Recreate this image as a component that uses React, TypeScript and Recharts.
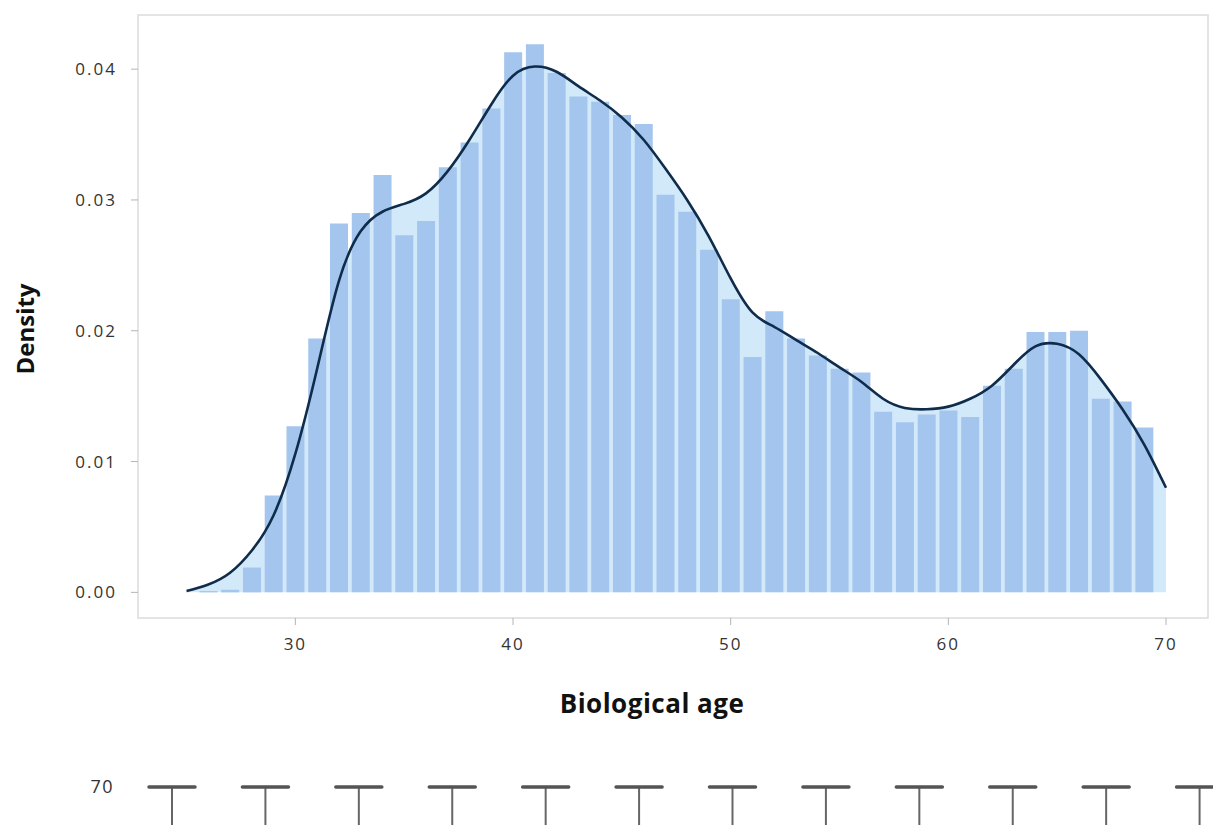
import { Area, Bar, ComposedChart, Label, Line, ReferenceArea, XAxis, YAxis } from 'recharts';

// histogram + kde
const AGES = [25, 26, 27, 28, 29, 30, 31, 32, 33, 34, 35, 36, 37, 38, 39, 40, 41, 42, 43, 44, 45, 46, 47, 48, 49, 50, 51, 52, 53, 54, 55, 56, 57, 58, 59, 60, 61, 62, 63, 64, 65, 66, 67, 68, 69, 70];
const HIST_DENSITY = [
  null, 0.0001, 0.0002, 0.0019, 0.0074, 0.0127, 0.0194, 0.0282, 0.029, 0.0319,
  0.0273, 0.0284, 0.0325, 0.0344, 0.037, 0.0413, 0.0419, 0.0397, 0.0379, 0.0375,
  0.0365, 0.0358, 0.0304, 0.0291, 0.0262, 0.0224, 0.018, 0.0215, 0.0194, 0.0181,
  0.0171, 0.0168, 0.0138, 0.013, 0.0136, 0.0139, 0.0134, 0.0158, 0.0171, 0.0199,
  0.0199, 0.02, 0.0148, 0.0146, 0.0126, null,
];
const KDE_DENSITY = [
  0.0001, 0.0006, 0.0015, 0.0032, 0.0059, 0.0106, 0.0171, 0.0238, 0.0276, 0.0291,
  0.0297, 0.0305, 0.0322, 0.0346, 0.0373, 0.0395, 0.0402, 0.0398, 0.0387, 0.0376,
  0.0363, 0.0346, 0.0324, 0.03, 0.0272, 0.024, 0.0214, 0.0203, 0.0193, 0.0183,
  0.0172, 0.0161, 0.0148, 0.0141, 0.014, 0.0142, 0.0148, 0.0158, 0.0174, 0.0188,
  0.019, 0.0182, 0.0163, 0.014, 0.0113, 0.008,
];
const X_TICKS = [30, 40, 50, 60, 70];
const Y_TICKS = [0, 0.01, 0.02, 0.03, 0.04];
const X_DOMAIN = [22.77, 71.93];
const Y_DOMAIN = [-0.00196, 0.04414];

// second panel, only its top whisker caps are in view
const GROUPS = ['1', '2', '3', '4', '5', '6', '7', '8', '9', '10', '11', '12'];
const WHISKER_LOW = [48, 47, 49, 46, 48, 47, 49, 48, 46, 47, 48, 49];
const WHISKER_HIGH = [70, 70, 70, 70, 70, 70, 70, 70, 70, 70, 70, 70];

const histData = AGES.map((age, i) => ({
  age,
  hist: HIST_DENSITY[i],
  kde: KDE_DENSITY[i],
}));

const whiskerData = GROUPS.map((group, i) => ({
  group,
  range: [WHISKER_LOW[i], WHISKER_HIGH[i]],
}));

const tickStyle = { fill: '#333', fontSize: 17, fontFamily: 'Open Sans', letterSpacing: 2 };

function WhiskerShape(props: any) {
  const { x, y, width, height } = props;
  const top = Math.min(y, y + height);
  const bottom = Math.max(y, y + height);
  const cx = x + width / 2;
  return (
    <g>
      <line x1={cx} x2={cx} y1={top} y2={bottom} stroke="#666" strokeWidth={2} />
      <line x1={x} x2={x + width} y1={top} y2={top} stroke="#545454" strokeWidth={3.5} strokeLinecap="round" />
    </g>
  );
}

export default function App() {
  return (
    <div
      style={{
        position: 'fixed',
        left: 0,
        top: 0,
        width: 1213,
        height: 825,
        overflow: 'hidden',
        background: '#fff',
      }}
    >
      <div style={{ position: 'absolute', left: 0, top: 0 }}>
        <ComposedChart width={1213} height={740} data={histData} margin={{ top: 15, right: 5, bottom: 0, left: 0 }}>
          <ReferenceArea
            x1={X_DOMAIN[0]}
            x2={X_DOMAIN[1]}
            y1={Y_DOMAIN[0]}
            y2={Y_DOMAIN[1]}
            fill="none"
            stroke="#dcdcdc"
            strokeWidth={1.5}
            ifOverflow="visible"
          />
          <XAxis
            dataKey="age"
            type="number"
            domain={X_DOMAIN}
            ticks={X_TICKS}
            allowDataOverflow
            height={122}
            axisLine={false}
            tickLine={{ stroke: '#b5b5b5' }}
            tickSize={7}
            tickMargin={13}
            tick={tickStyle}
          >
            <Label
              content={() => (
                <text
                  x={652}
                  y={713}
                  textAnchor="middle"
                  fill="#111"
                  fontSize={26}
                  fontWeight={700}
                  letterSpacing={0.5}
                  fontFamily="Open Sans"
                >
                  Biological age
                </text>
              )}
            />
          </XAxis>
          <YAxis
            type="number"
            domain={Y_DOMAIN}
            ticks={Y_TICKS}
            allowDataOverflow
            width={138}
            axisLine={false}
            tickLine={{ stroke: '#b5b5b5' }}
            tickSize={7}
            tickMargin={14}
            tick={tickStyle}
            tickFormatter={(v: number) => v.toFixed(2)}
          >
            <Label
              content={() => (
                <text
                  x={24}
                  y={329}
                  transform="rotate(-90 24 329)"
                  textAnchor="middle"
                  dominantBaseline="central"
                  fill="#111"
                  fontSize={24}
                  fontWeight={700}
                  fontFamily="Open Sans"
                >
                  Density
                </text>
              )}
            />
          </YAxis>
          <Area
            type="natural"
            dataKey="kde"
            baseValue={0}
            fill="#d2e9fa"
            fillOpacity={1}
            stroke="none"
            isAnimationActive={false}
          />
          <Bar dataKey="hist" barSize={18} fill="#a4c5ee" isAnimationActive={false} />
          <Line
            type="natural"
            dataKey="kde"
            stroke="#0f2c4b"
            strokeWidth={2.6}
            dot={false}
            isAnimationActive={false}
          />
        </ComposedChart>
      </div>
      <div style={{ position: 'absolute', left: 0, top: 737 }}>
        <ComposedChart width={1260} height={500} data={whiskerData} margin={{ top: 0, right: 14, bottom: 0, left: 0 }}>
          <XAxis dataKey="group" hide />
          <YAxis
            type="number"
            domain={[25, 75]}
            ticks={[70]}
            width={125}
            axisLine={false}
            tickLine={false}
            tickSize={0}
            tickMargin={11}
            tick={{ fill: '#333', fontSize: 18, fontFamily: 'Open Sans', letterSpacing: 1.5 }}
          />
          <Bar dataKey="range" barSize={46} shape={<WhiskerShape />} isAnimationActive={false} />
        </ComposedChart>
      </div>
    </div>
  );
}
